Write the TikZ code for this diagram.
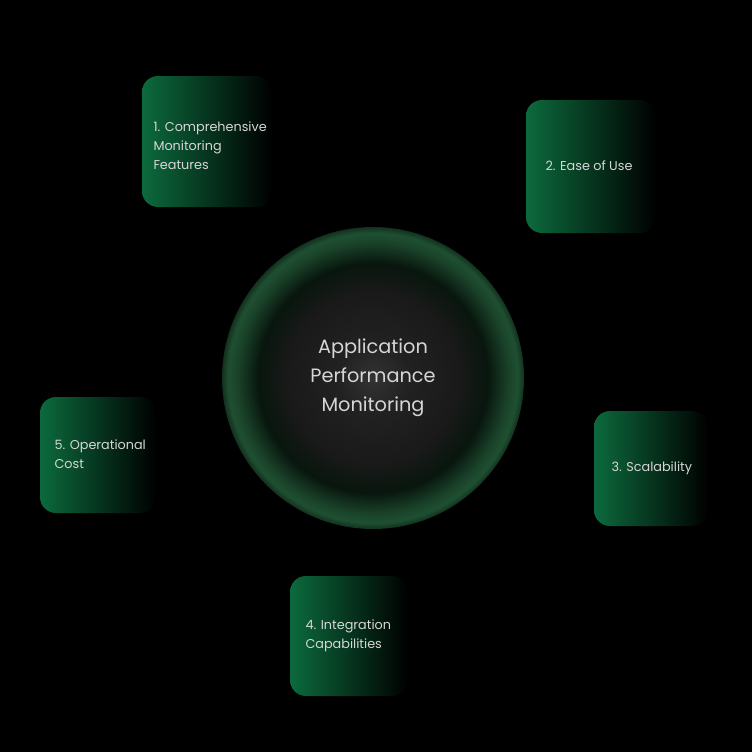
\documentclass[tikz,border=0pt]{standalone}
\usepackage{fontspec}
\setmainfont{Poppins}
\definecolor{bx}{HTML}{0C6A3D}
\definecolor{tx}{HTML}{D6D6D6}
\definecolor{rim}{HTML}{2F7A4C}
\pgfdeclareradialshading{glow}{\pgfpoint{0cm}{0cm}}{%
 color(0bp)=(black!80!white);
 color(6bp)=(black!87!white);
 color(14bp)=(black!90!white);
 color(19bp)=(black!82!rim);
 color(22.5bp)=(black!45!rim);
 color(24bp)=(black!35!rim);
 color(25bp)=(black!60!rim);
 color(26bp)=(black);
 color(100bp)=(black)}
\tikzset{
 card/.style={rounded corners=16pt, left color=bx, right color=black, shading angle=90},
 lbl/.style={text=tx, font=\fontsize{12.8}{19}\selectfont, align=left, anchor=west}
}
\begin{document}
\begin{tikzpicture}[x=1pt,y=-1pt]
\fill[black] (0,0) rectangle (752,752);
\useasboundingbox (0,0) rectangle (752,752);
\shade[shading=glow] (373,378) circle (151);
\node[text=tx, font=\fontsize{19.3}{29}\selectfont, align=center] (c) at (373,378) {Application\\Performance\\Monitoring};
\shade[card] (142,76) rectangle (272,207);
\node[lbl] (n1) at (150,146) {1. Comprehensive\\Monitoring\\Features};
\shade[card] (526,100) rectangle (656,233);
\node[lbl] (n2) at (542,166) {2. Ease of Use};
\shade[card] (594,411) rectangle (708,526);
\node[lbl] (n3) at (608,468) {3. Scalability};
\shade[card] (290,576) rectangle (408,696);
\node[lbl] (n4) at (302,636) {4. Integration\\Capabilities};
\shade[card] (40,397) rectangle (156,513);
\node[lbl] (n5) at (51,454) {5. Operational\\Cost};
\end{tikzpicture}
\end{document}
